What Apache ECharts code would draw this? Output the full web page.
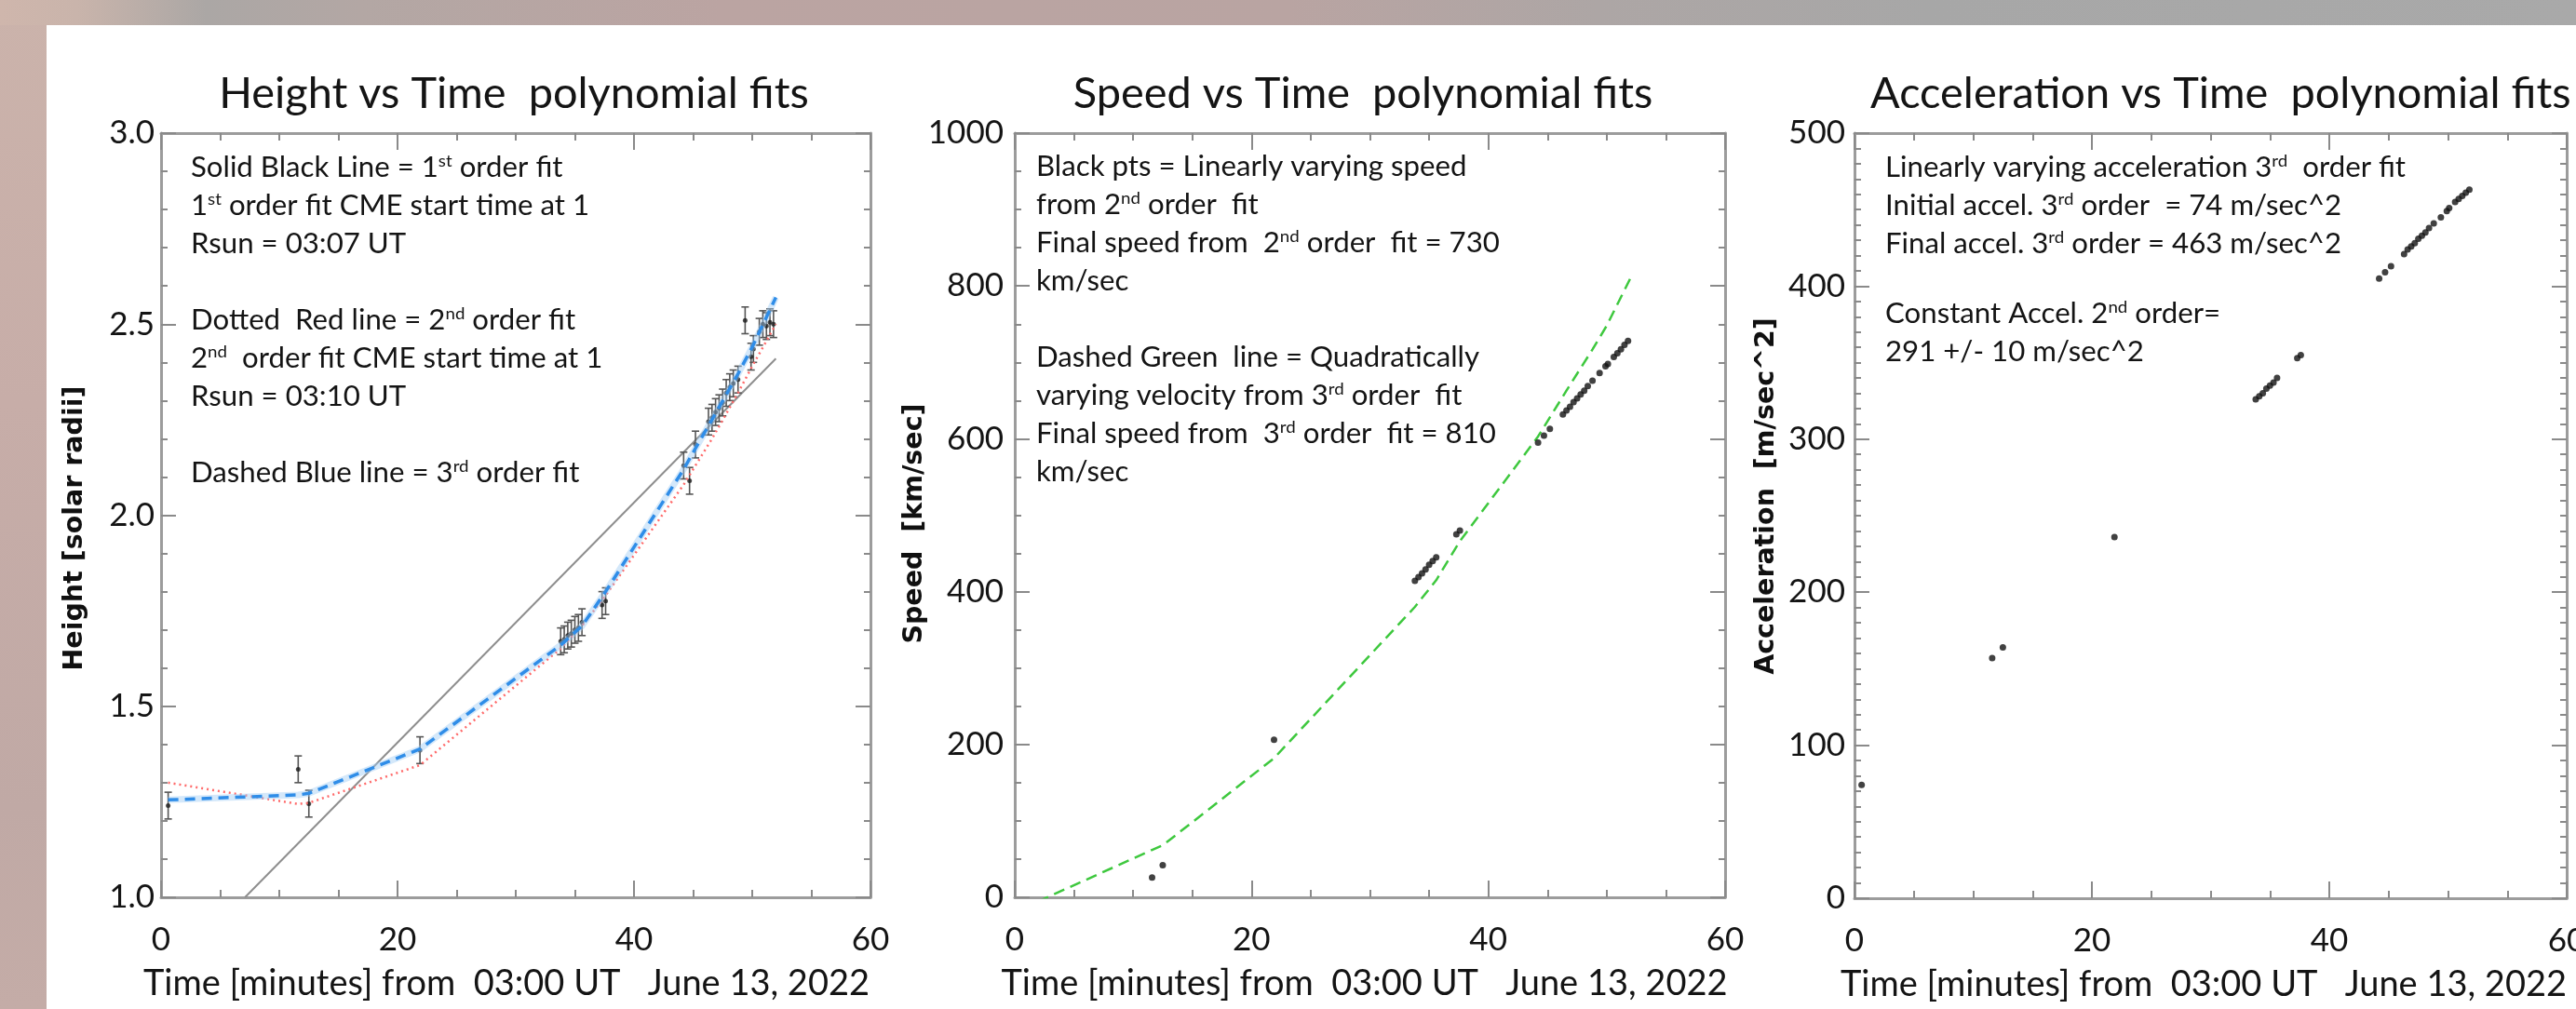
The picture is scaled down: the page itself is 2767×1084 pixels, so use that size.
<!DOCTYPE html>
<html><head><meta charset="utf-8">
<script src="https://cdn.jsdelivr.net/npm/echarts@6/dist/echarts.min.js"></script>
<style>
html,body{margin:0;padding:0;width:2767px;height:1084px;overflow:hidden;background:#c6aca7;}
#bgLeft{position:absolute;left:0;top:0;width:50px;height:1084px;background:linear-gradient(to bottom,#cbb3ab 0%,#c7ada8 40%,#c0a9a5 80%,#c4aca7 100%);}
#bgTop{position:absolute;left:0;top:0;width:2767px;height:27px;background:linear-gradient(to right,#cfb6ac 0%,#c9b4ab 3%,#aba7a5 8%,#b3a7a4 14%,#bba4a2 28%,#b9a4a2 50%,#ada6a5 62%,#a7a7a7 75%,#a9a9a9 100%);}
#paper{position:absolute;left:50px;top:27px;width:2717px;height:1057px;background:#ffffff;}
#chart{position:absolute;left:0;top:0;width:2767px;height:1084px;}
</style></head>
<body><div id="bgLeft"></div><div id="bgTop"></div><div id="paper"></div><div id="chart"></div>
<script>
// ---------- data ----------
const timeMin = [0.6, 11.6, 12.5, 21.9, 33.8, 34.1, 34.4, 34.7, 35.0, 35.3, 35.6, 37.3, 37.6, 44.2, 44.7, 45.2, 46.3, 46.6, 46.9, 47.2, 47.5, 47.8, 48.1, 48.4, 48.8, 49.4, 49.9, 50.1, 50.6, 50.9, 51.2, 51.5, 51.8];
const heightRsun = [1.24, 1.335, 1.245, 1.385, 1.67, 1.675, 1.685, 1.69, 1.70, 1.705, 1.72, 1.765, 1.775, 2.13, 2.09, 2.185, 2.245, 2.255, 2.27, 2.28, 2.295, 2.32, 2.335, 2.345, 2.355, 2.51, 2.415, 2.435, 2.48, 2.50, 2.495, 2.505, 2.50];
const heightErr = [0.035, 0.035, 0.035, 0.035, 0.035, 0.035, 0.035, 0.035, 0.035, 0.035, 0.035, 0.035, 0.035, 0.035, 0.035, 0.035, 0.035, 0.035, 0.035, 0.035, 0.035, 0.035, 0.035, 0.035, 0.035, 0.035, 0.035, 0.035, 0.035, 0.035, 0.035, 0.035, 0.035];
const speedKms = [null, 26, 42, 206, 414, 419, 424, 429, 435, 440, 445, 475, 480, 595, 604, 613, 632, 637, 642, 648, 653, 658, 663, 669, 676, 686, 695, 698, 707, 712, 717, 723, 728];
const accelMs2 = [74, 157, 164, 236, 326, 328, 330, 333, 335, 337, 340, 353, 355, 405, 409, 413, 421, 424, 426, 428, 431, 433, 435, 438, 441, 445, 449, 451, 455, 457, 459, 461, 463];

const fit1Time = [7.1, 52.0];
const fit1Height = [1.0, 2.41];
const fitTime = [0.6, 11.6, 12.5, 21.9, 33.8, 35.6, 37.6, 44.2, 45.2, 46.6, 48.8, 50.0, 52.0];
const fit2Height = [1.30, 1.244, 1.247, 1.346, 1.651, 1.71, 1.79, 2.08, 2.13, 2.20, 2.32, 2.39, 2.50];
const fit3Height = [1.255, 1.268, 1.272, 1.388, 1.66, 1.71, 1.80, 2.12, 2.175, 2.25, 2.37, 2.44, 2.57];
const fit3Speed = [-15, 62, 68, 182, 380, 415, 466, 603, 628, 663, 717, 748, 810];

const timeTicks = [0, 20, 40, 60];
const heightTicks = [1.0, 1.5, 2.0, 2.5, 3.0];
const speedTicks = [0, 200, 400, 600, 800, 1000];
const accelTicks = [0, 100, 200, 300, 400, 500];

const panelTitles = ['Height vs Time  polynomial fits', 'Speed vs Time  polynomial fits', 'Acceleration vs Time  polynomial fits'];
const xName = 'Time [minutes] from  03:00 UT   June 13, 2022';
const yNames = ['Height [solar radii]', 'Speed  [km/sec]', 'Acceleration  [m/sec^2]'];

const note1 = 'Solid Black Line = 1{s|st} order fit\n1{s|st} order fit CME start time at 1\nRsun = 03:07 UT\n \nDotted  Red line = 2{s|nd} order fit\n2{s|nd}  order fit CME start time at 1\nRsun = 03:10 UT\n \nDashed Blue line = 3{s|rd} order fit';
const note2 = 'Black pts = Linearly varying speed\nfrom 2{s|nd} order  fit\nFinal speed from  2{s|nd} order  fit = 730\nkm/sec\n \nDashed Green  line = Quadratically\nvarying velocity from 3{s|rd} order  fit\nFinal speed from  3{s|rd} order  fit = 810\nkm/sec';
const note3a = 'Linearly varying acceleration 3{s|rd}  order fit\nInitial accel. 3{s|rd} order  = 74 m/sec^2\nFinal accel. 3{s|rd} order = 463 m/sec^2';
const note3b = 'Constant Accel. 2{s|nd} order=\n291 +/- 10 m/sec^2';

// ---------- helpers ----------
const zip = (a, b) => a.map((v, i) => [v, b[i]]);
const TXT = '#141414';
const AX = '#9c9c9c';
const FONT = 'Lato, "Open Sans", sans-serif';
const YFONT = '"DejaVu Sans", Verdana, sans-serif';

function xAxes(gi, namePad) {
  const base = {
    gridIndex: gi, type: 'value', min: timeTicks[0], max: timeTicks[timeTicks.length - 1], interval: 20,
    axisLine: { show: true, onZero: false, lineStyle: { color: AX, width: 3 } },
    axisTick: { show: true, inside: true, length: 18, lineStyle: { color: '#8a8a8a', width: 2 } },
    minorTick: { show: true, splitNumber: 4, length: 8, lineStyle: { color: '#8a8a8a', width: 2 } },
    splitLine: { show: false }, minorSplitLine: { show: false }
  };
  return [
    Object.assign({}, base, {
      position: 'bottom',
      axisLabel: { show: true, margin: 28, fontSize: 35, fontFamily: FONT, color: TXT },
      name: xName, nameLocation: 'middle', nameGap: 74, nameMoveOverlap: false,
      nameTextStyle: { fontSize: 38, fontFamily: FONT, color: TXT, padding: namePad }
    }),
    Object.assign({}, base, { position: 'top', axisLabel: { show: false } })
  ];
}

function yAxes(gi, ticks, interval, minorSplit, decimals, labelMargin, nameGap, namePad) {
  const base = {
    gridIndex: gi, type: 'value', min: ticks[0], max: ticks[ticks.length - 1], interval: interval,
    axisLine: { show: true, onZero: false, lineStyle: { color: AX, width: 3 } },
    axisTick: { show: true, inside: true, length: 16, lineStyle: { color: '#8a8a8a', width: 2 } },
    minorTick: { show: true, splitNumber: minorSplit, length: 7, lineStyle: { color: '#8a8a8a', width: 2 } },
    splitLine: { show: false }, minorSplitLine: { show: false }
  };
  return [
    Object.assign({}, base, {
      position: 'left',
      axisLabel: { show: true, margin: labelMargin, fontSize: 35, fontFamily: FONT, color: TXT,
        formatter: v => v.toFixed(decimals) },
      name: yNames[gi], nameLocation: 'middle', nameRotate: 90, nameGap: nameGap, nameMoveOverlap: false,
      nameTextStyle: { fontSize: 28.5, fontWeight: 'bold', fontFamily: YFONT, color: '#101010', padding: namePad }
    }),
    Object.assign({}, base, { position: 'right', axisLabel: { show: false } })
  ];
}

function errorBars(xi, yi) {
  return {
    type: 'custom', xAxisIndex: xi, yAxisIndex: yi, silent: true, z: 4,
    data: timeMin.map((t, i) => [t, heightRsun[i], heightErr[i]]),
    renderItem: (params, api) => {
      const x = api.value(0), y = api.value(1), e = api.value(2);
      const top = api.coord([x, y + e]);
      const bot = api.coord([x, y - e]);
      const c = 4;
      const st = { stroke: '#555555', lineWidth: 1.6 };
      return { type: 'group', children: [
        { type: 'line', shape: { x1: top[0], y1: top[1], x2: bot[0], y2: bot[1] }, style: st },
        { type: 'line', shape: { x1: top[0] - c, y1: top[1], x2: top[0] + c, y2: top[1] }, style: st },
        { type: 'line', shape: { x1: bot[0] - c, y1: bot[1], x2: bot[0] + c, y2: bot[1] }, style: st }
      ]};
    }
  };
}

function noteText(x, yTop, text) {
  return {
    type: 'text', x: x, y: yTop, scaleX: 1.04, z: 50, silent: true,
    style: {
      text: text, fontSize: 30, fontFamily: FONT, fill: TXT, lineHeight: 41,
      textAlign: 'left', textVerticalAlign: 'top',
      rich: { s: { fontSize: 18, fontFamily: FONT, fill: TXT, padding: [0, 0, 15, 0], verticalAlign: 'middle' } }
    }
  };
}

function titleText(x, align, text) {
  return { type: 'text', x: x, y: 101, scaleX: 1.02, z: 50, silent: true,
    style: { text: text, fontSize: 46, fontFamily: FONT, fill: TXT, textAlign: align, textVerticalAlign: 'middle' } };
}

const chart = echarts.init(document.getElementById('chart'), null, { renderer: 'canvas' });

const xA = [].concat(xAxes(0, [0, 20, 0, 0]), xAxes(1, [0, 12, 0, 0]), xAxes(2, [0, 15, 0, 0]));
const yA = [].concat(
  yAxes(0, heightTicks, 0.5, 5, 1, 7, 78, [0, 28, 0, 0]),
  yAxes(1, speedTicks, 200, 4, 0, 12, 93, [0, 18, 0, 0]),
  yAxes(2, accelTicks, 100, 10, 0, 10, 80, [0, 0, 0, 42])
);

const option = {
  backgroundColor: 'transparent',
  animation: false,
  grid: [
    { left: 173, top: 143, width: 762, height: 821, outerBoundsMode: 'none' },
    { left: 1090, top: 143, width: 763, height: 821, outerBoundsMode: 'none' },
    { left: 1992, top: 143, width: 765, height: 822, outerBoundsMode: 'none' }
  ],
  xAxis: xA,
  yAxis: yA,
  graphic: [
    titleText(552, 'center', panelTitles[0]),
    titleText(1464, 'center', panelTitles[1]),
    titleText(2009, 'left', panelTitles[2]),
    noteText(205, 160, note1),
    noteText(1113, 159, note2),
    noteText(2025, 160, note3a),
    noteText(2025, 317, note3b)
  ],
  series: [
    // Panel 1: height
    { type: 'line', xAxisIndex: 0, yAxisIndex: 0, data: zip(fit1Time, fit1Height), symbol: 'none', silent: true,
      lineStyle: { color: '#8e8e8e', width: 2 }, z: 2 },
    errorBars(0, 0),
    { type: 'scatter', xAxisIndex: 0, yAxisIndex: 0, data: zip(timeMin, heightRsun), symbol: 'circle', symbolSize: 5, silent: true,
      itemStyle: { color: '#1a1a1a' }, z: 5 },
    { type: 'line', xAxisIndex: 0, yAxisIndex: 0, data: zip(fitTime, fit2Height), symbol: 'none', silent: true,
      lineStyle: { color: '#ff6a6a', width: 2.5, type: [2, 4] }, z: 6 },
    { type: 'line', xAxisIndex: 0, yAxisIndex: 0, data: zip(fitTime, fit3Height), symbol: 'none', silent: true,
      lineStyle: { color: 'rgba(160,205,245,0.45)', width: 7 }, z: 6 },
    { type: 'line', xAxisIndex: 0, yAxisIndex: 0, data: zip(fitTime, fit3Height), symbol: 'none', silent: true,
      lineStyle: { color: '#2f8de8', width: 3.5, type: [11, 7] }, z: 7 },
    // Panel 2: speed
    { type: 'line', xAxisIndex: 2, yAxisIndex: 2, data: zip(fitTime, fit3Speed), symbol: 'none', silent: true, clip: true,
      lineStyle: { color: '#3ec83e', width: 2.5, type: [12, 7] }, z: 3 },
    { type: 'scatter', xAxisIndex: 2, yAxisIndex: 2, data: zip(timeMin, speedKms).filter(d => d[1] !== null), symbol: 'circle', symbolSize: 7, silent: true,
      itemStyle: { color: '#111111' }, z: 5 },
    // Panel 3: acceleration
    { type: 'scatter', xAxisIndex: 4, yAxisIndex: 4, data: zip(timeMin, accelMs2), symbol: 'circle', symbolSize: 7, silent: true,
      itemStyle: { color: '#111111' }, z: 5 }
  ]
};
chart.setOption(option);
</script>
</body></html>
